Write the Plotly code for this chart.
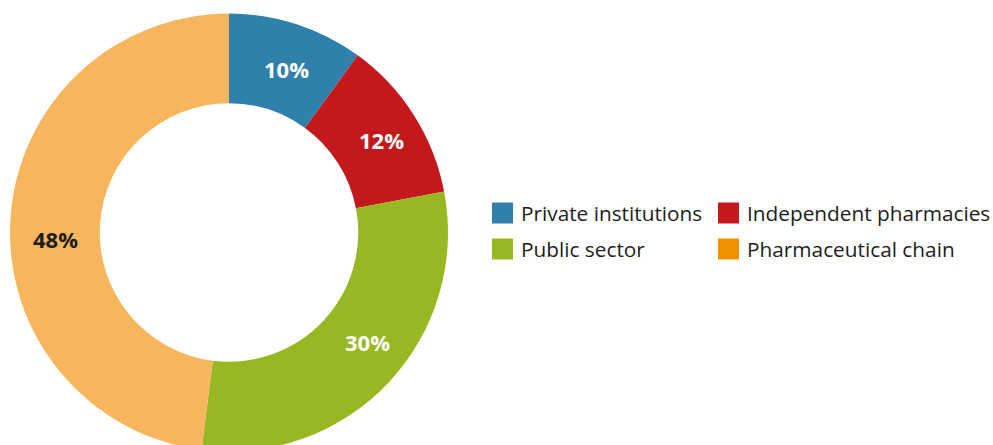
import math
import plotly.graph_objects as go

# Market share by distribution channel
categories = ["Private institutions", "Independent pharmacies", "Public sector", "Pharmaceutical chain"]
shares = [10, 12, 30, 48]
slice_colors = ["#2f80ab", "#c4191c", "#97b823", "#f7b55e"]
legend_colors = ["#2f80ab", "#c4191c", "#97b823", "#f39200"]
label_colors = ["white", "white", "white", "#1d1d1b"]

W, H = 993, 452
FONT = "Open Sans"

# Donut geometry in pixels
CX, CY = 229, 232
R_OUT = 219
HOLE = 0.59
R_LABEL = R_OUT * (1 + HOLE) / 2
# small pixel nudges applied to each percentage label (dx, dy)
LABEL_NUDGE = [(3.5, 2.5), (5.5, 1.5), (12, -9.5), (0.5, 17.5)]

fig = go.Figure(
    go.Pie(
        labels=categories,
        values=shares,
        hole=HOLE,
        sort=False,
        direction="clockwise",
        rotation=0,
        marker=dict(colors=slice_colors, line=dict(width=0)),
        textinfo="none",
        domain=dict(x=[(CX - R_OUT) / W, (CX + R_OUT) / W], y=[0, 1 - (CY - R_OUT) / H]),
        showlegend=False,
        hoverinfo="label+percent",
    )
)

annotations = []

# Percentage labels placed around the middle of each ring segment
total = sum(shares)
start = 0.0
for v, col, (dx, dy) in zip(shares, label_colors, LABEL_NUDGE):
    mid = (start + v / 2) / total * 2 * math.pi
    start += v
    px = CX + R_LABEL * math.sin(mid) + dx
    py = CY - R_LABEL * math.cos(mid) + dy
    annotations.append(dict(
        text=f"<b>{v}%</b>", xref="paper", yref="paper",
        x=px / W, y=1 - py / H, xanchor="center", yanchor="middle",
        showarrow=False, font=dict(family=FONT, size=22, color=col),
    ))

# Hand-built legend: two columns, two rows of square swatches
col_x = [492, 718]
row_y = [213, 249]
sw = 21
shapes = []
for i, (name, color) in enumerate(zip(categories, legend_colors)):
    cx = col_x[i % 2]
    cy = row_y[i // 2]
    shapes.append(dict(
        type="rect", xref="paper", yref="paper",
        x0=cx / W, x1=(cx + sw) / W,
        y0=1 - (cy + sw / 2) / H, y1=1 - (cy - sw / 2) / H,
        fillcolor=color, line=dict(width=0),
    ))
    annotations.append(dict(
        text=name, xref="paper", yref="paper",
        x=(cx + sw + 6) / W, y=1 - cy / H,
        xanchor="left", yanchor="middle", showarrow=False,
        font=dict(family=FONT, size=20.8, color="#1d1d1b"),
    ))

fig.update_layout(
    width=W, height=H,
    margin=dict(l=0, r=0, t=0, b=0),
    paper_bgcolor="white", plot_bgcolor="white",
    shapes=shapes, annotations=annotations,
)

fig.write_html(
    "out.html",
    post_script="document.documentElement.style.overflow='hidden';document.body.style.overflow='hidden';document.body.style.margin='0';",
)
